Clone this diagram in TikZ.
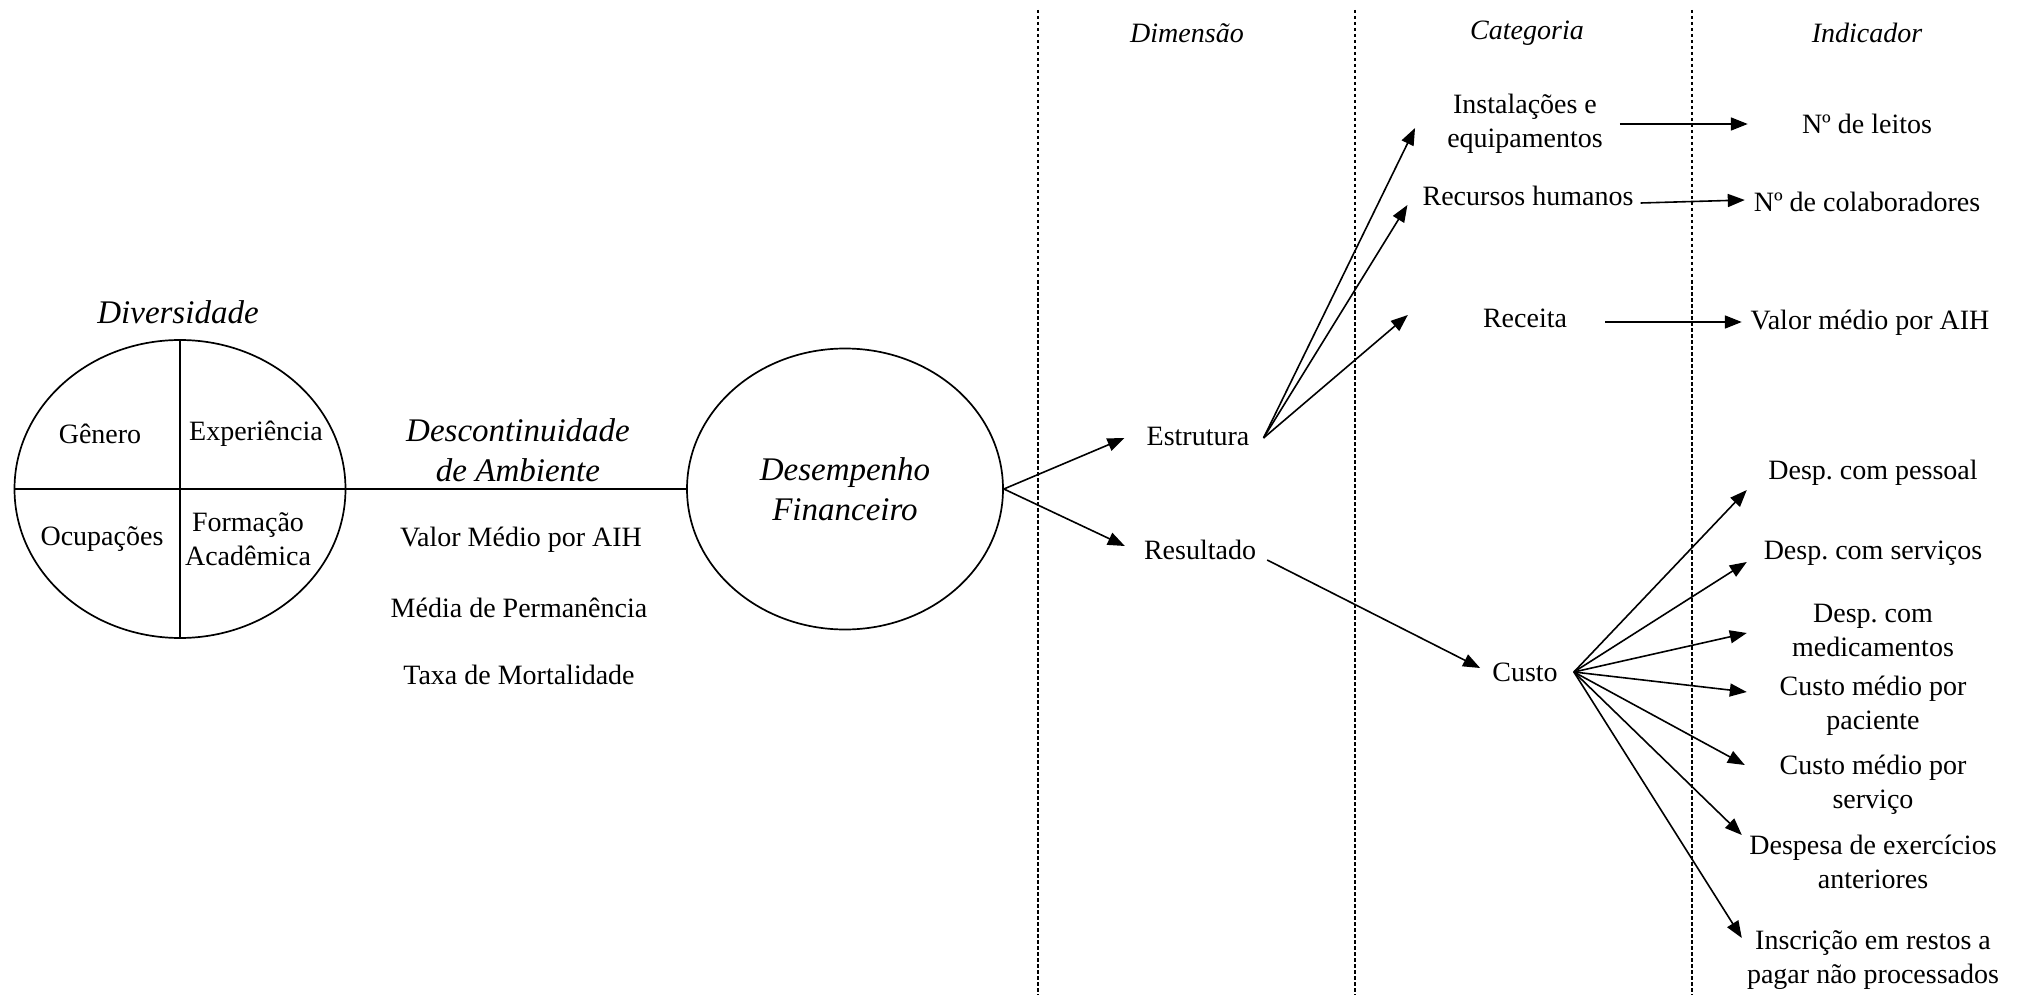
\documentclass[tikz,border=0pt]{standalone}
\usepackage{fontspec}
\setmainfont{Liberation Serif}
\usetikzlibrary{arrows.meta,calc,shapes.geometric}

\begin{document}
\frenchspacing
\begin{tikzpicture}[x=1pt,y=-1pt,
  every node/.style={inner sep=0pt, align=center, font=\fontsize{28}{34}\selectfont},
  heading/.style={font=\fontsize{33}{40}\selectfont\itshape},
  colhead/.style={font=\fontsize{28}{34}\selectfont\itshape},
  oval/.style={draw, ellipse, line width=1.7pt},
  line/.style={line width=1.7pt},
  arr/.style={line width=1.6pt, -{Triangle[length=17pt,width=13pt]}},
  divider/.style={line width=1.7pt, dash pattern=on 3.5pt off 2.5pt},
  indic/.style={minimum width=256pt},
]
\useasboundingbox (0,0) rectangle (2022,995);

% --- diversity oval, split into four quadrants
\node[oval, minimum width=331pt, minimum height=298pt] (div) at (180,489) {};
\node[heading] (divlbl) at (178,312) {Diversidade};
\node (gen) at (100,434) {Gênero};
\node (exp) at (256,434) {Experiência};
\node (ocu) at (102,539) {Ocupações};
\node (form) at (248,539) {Formação\\Acadêmica};
\draw[line] (div.north) -- (div.south);

% --- financial performance oval and the link between the two
\node[oval, heading, minimum width=316pt, minimum height=281pt] (desemp) at (845,489) {Desempenho\\Financeiro};
\draw[line] (div.west) -- (desemp.west);

\node[heading] (desc) at (518,450) {Descontinuidade\\de Ambiente};
\node (valor) at (521,540) {Valor Médio por AIH};
\node (media) at (519,608) {Média de Permanência};
\node (taxa) at (519,675) {Taxa de Mortalidade};

% --- column separators and headings
\draw[divider] (1038,10) -- (1038,995);
\draw[divider] (1355,10) -- (1355,995);
\draw[divider] (1692,10) -- (1692,995);
\node[colhead] (hdim) at (1187,33) {Dimensão};
\node[colhead] (hcat) at (1527,33) {Categoria};
\node[colhead] (hind) at (1867,33) {Indicador};

% --- dimensions
\node (estr) at (1198,436) {Estrutura};
\node (res) at (1200,550) {Resultado};
\draw[arr] (desemp.east) -- ($(estr.west)+(-22,2)$);
\draw[arr] (desemp.east) -- ($(res.west)+(-19,-4)$);

% --- categories of the structure dimension
\node (inst) at (1525,124) {Instalações e\\equipamentos};
\node (rh) at (1528,196) {Recursos humanos};
\node (rec) at (1525,318) {Receita};
\coordinate (efan) at ($(estr.east)+(14,2)$);
\draw[arr] (efan) -- ($(inst.west)+(-32,4)$);
\draw[arr] (efan) -- ($(rh.west)+(-15,9)$);
\draw[arr] (efan) -- ($(rec.west)+(-75,-3)$);

% --- indicators of the structure categories
\node[minimum width=244pt] (leitos) at (1867,124) {Nº de leitos};
\node[minimum width=244pt] (colab) at (1867,202) {Nº de colaboradores};
\node[minimum width=250pt] (vaih) at (1870,323) {Valor médio por AIH};
\draw[arr] ($(inst.east)+(17,0)$) -- ($(leitos.west)+(3,0)$);
\draw[arr] ($(rh.east)+(7,7)$) -- ($(colab.west)+(0,-2)$);
\draw[arr] ($(rec.east)+(38,4)$) -- ($(vaih.west)+(-3,-1)$);

% --- cost category and its indicators
\node (custo) at (1525,672) {Custo};
\draw[arr] ($(res.east)+(11,10)$) -- ($(custo.west)+(-12,-4)$);
\coordinate (cfan) at ($(custo.east)+(16,0)$);

\node[indic] (pess) at (1873,473) {Desp. com pessoal};
\node[indic] (serv) at (1873,553) {Desp. com serviços};
\node[indic] (medic) at (1873,630) {Desp. com\\medicamentos};
\node[indic] (cpac) at (1873,706) {Custo médio por\\paciente};
\node[indic] (cserv) at (1873,785) {Custo médio por\\serviço};
\node[indic] (dea) at (1873,862) {Despesa de exercícios\\anteriores};
\node[indic] (insc) at (1873,960) {Inscrição em restos a\\pagar não processados};

\draw[arr] (cfan) -- ($(pess.west)+(2,17)$);
\draw[arr] (cfan) -- ($(serv.west)+(2,9)$);
\draw[arr] (cfan) -- ($(medic.west)+(2,3)$);
\draw[arr] (cfan) -- ($(cpac.west)+(2,-14)$);
\draw[arr] (cfan) -- ($(cserv.west)+(0,-20)$);
\draw[arr] (cfan) -- ($(dea.west)+(-3,-27)$);
\draw[arr] (cfan) -- ($(insc.west)+(-3,-22)$);
\end{tikzpicture}
\end{document}
